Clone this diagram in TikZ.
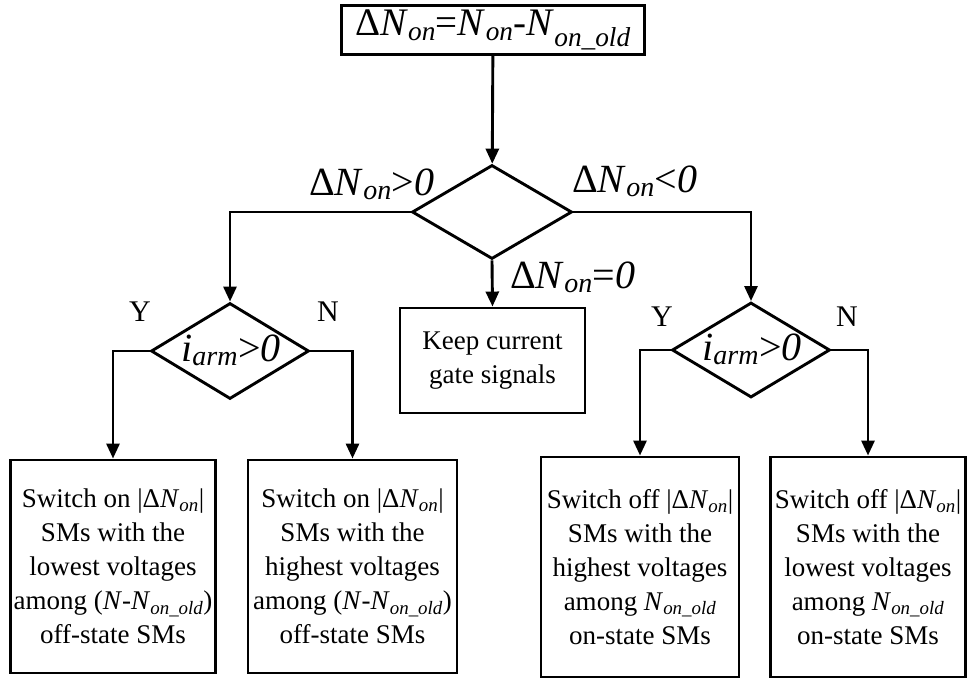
\documentclass[tikz,border=0pt]{standalone}
\usepackage{fontspec}
\setmainfont{Liberation Serif}
\usetikzlibrary{shapes.geometric,arrows.meta}
% italic symbol with italic subscript
\newcommand\symsub[2]{\textit{#1}\textsubscript{\itshape #2}}
\newcommand\dNon{Δ\symsub{N}{on}}
\begin{document}
\begin{tikzpicture}[x=1pt,y=-1pt,
  every node/.style={font=\fontsize{27}{34}\selectfont},
  box/.style={draw,line width=2.9pt,rectangle,align=center,inner sep=0pt},
  decision/.style={draw,line width=2.9pt,diamond,inner sep=0pt},
  flow/.style={line width=2.9pt,-{Triangle[length=15pt,width=13pt]}},
  biglabel/.style={font=\fontsize{40}{44}\selectfont,anchor=base west,inner sep=0pt},
  yn/.style={font=\fontsize{30}{34}\selectfont,inner sep=0pt},
  cond/.style={font=\fontsize{40}{44}\selectfont,inner sep=0pt,anchor=base}]
\useasboundingbox (0,0) rectangle (967,680);

% start box
\node[box,minimum width=303pt,minimum height=49pt,font=\fontsize{39}{42}\selectfont]
  (start) at (493,30) {\dNon=\symsub{N}{on}-\symsub{N}{on\_old}};

% main decision
\node[decision,minimum width=160pt,minimum height=94pt] (main) at (492,212) {};

% secondary decisions
\node[decision,minimum width=158pt,minimum height=96pt] (ldec) at (230,351) {};
\node[cond] (ltxt) at (231,361) {\symsub{i}{arm}>\textit{0}};
\node[decision,minimum width=158pt,minimum height=95pt] (rdec) at (751,350) {};
\node[cond] (rtxt) at (752,360) {\symsub{i}{arm}>\textit{0}};

% keep box
\node[box,minimum width=185pt,minimum height=105pt] (keep) at (492.5,360.5)
  {Keep current\\gate signals};

% action boxes
\node[box,minimum width=205pt,minimum height=213pt] (a1) at (113,566.5)
  {Switch on |\dNon|\\SMs with the\\lowest voltages\\among (\textit{N}-\symsub{N}{on\_old})\\off-state SMs};
\node[box,minimum width=209pt,minimum height=213pt] (a2) at (352.5,566.5)
  {Switch on |\dNon|\\SMs with the\\highest voltages\\among (\textit{N}-\symsub{N}{on\_old})\\off-state SMs};
\node[box,minimum width=198pt,minimum height=220pt] (a3) at (640,567)
  {Switch off |\dNon|\\SMs with the\\highest voltages\\among \symsub{N}{on\_old}\\on-state SMs};
\node[box,minimum width=195pt,minimum height=220pt] (a4) at (868,567)
  {Switch off |\dNon|\\SMs with the\\lowest voltages\\among \symsub{N}{on\_old}\\on-state SMs};

% connectors
\draw[flow] (start) -- (main);
\draw[flow] (main.west) -| (ldec.north);
\draw[flow] (main.east) -| (rdec.north);
\draw[flow] (main.south) -- (keep.north);
\draw[flow] (ldec.west) -| (a1.north);
\draw[flow] (ldec.east) -| (a2.north);
\draw[flow] (rdec.west) -| (a3.north);
\draw[flow] (rdec.east) -| (a4.north);

% branch labels
\node[biglabel] (gt) at (309,195) {\dNon>\textit{0}};
\node[biglabel] (lt) at (572,192) {\dNon<\textit{0}};
\node[biglabel] (eq) at (510,288) {\dNon=\textit{0}};
\node[yn] (ly) at (140,312) {Y};
\node[yn] (ln) at (328,312) {N};
\node[yn] (ry) at (662,317) {Y};
\node[yn] (rn) at (847,317) {N};
\end{tikzpicture}
\end{document}
